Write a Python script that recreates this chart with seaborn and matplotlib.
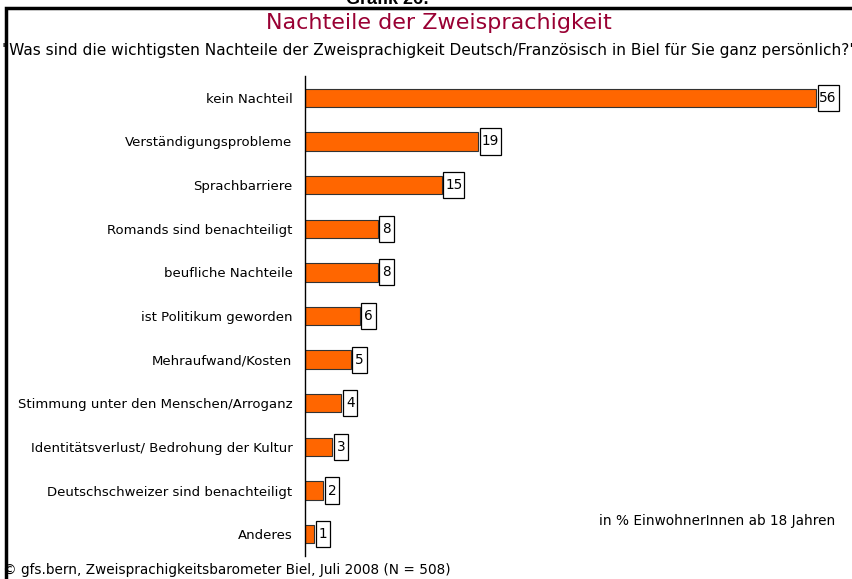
import matplotlib
matplotlib.use("Agg")
import matplotlib.pyplot as plt
import seaborn as sns
import pandas as pd
from matplotlib.patches import Rectangle

categories = [
    "kein Nachteil",
    "Verständigungsprobleme",
    "Sprachbarriere",
    "Romands sind benachteiligt",
    "beufliche Nachteile",
    "ist Politikum geworden",
    "Mehraufwand/Kosten",
    "Stimmung unter den Menschen/Arroganz",
    "Identitätsverlust/ Bedrohung der Kultur",
    "Deutschschweizer sind benachteiligt",
    "Anderes",
]
values = [56, 19, 15, 8, 8, 6, 5, 4, 3, 2, 1]

title = "Nachteile der Zweisprachigkeit"
subtitle = '"Was sind die wichtigsten Nachteile der Zweisprachigkeit Deutsch/Französisch in Biel für Sie ganz persönlich?"'
note = "in % EinwohnerInnen ab 18 Jahren"
footer = "© gfs.bern, Zweisprachigkeitsbarometer Biel, Juli 2008 (N = 508)"
header = "Grafik 26:"

df = pd.DataFrame({"cat": categories, "val": values})

sns.set_theme(style="white")
plt.rcParams["font.family"] = ["DejaVu Sans"]

W, H = 853, 579
fig = plt.figure(figsize=(W / 100, H / 100), dpi=100)
fig.patch.set_facecolor("white")

ax_left, ax_right, ax_top, ax_bot = 305, 853, 76, 556
ax = fig.add_axes([ax_left / W, 1 - ax_bot / H, (ax_right - ax_left) / W, (ax_bot - ax_top) / H])
px_per_unit = 9.125
xmax = (ax_right - ax_left) / px_per_unit

sns.barplot(data=df, y="cat", x="val", orient="h", color="#FF6600", ax=ax,
            width=0.42, edgecolor="#333333", linewidth=0.8, saturation=1)

ax.set_xlim(0, xmax)
ax.set_ylim(len(categories) - 0.5, -0.5)
ax.set_xlabel("")
ax.set_ylabel("")
ax.set_xticks([])
for s in ["top", "right", "bottom"]:
    ax.spines[s].set_visible(False)
ax.spines["left"].set_color("black")
ax.spines["left"].set_linewidth(1.0)
ax.tick_params(axis="y", which="major", length=0, pad=9, labelsize=9.5, labelcolor="black")
ax.set_yticks([i - 0.5 for i in range(len(categories) + 1)], minor=True)
ax.tick_params(axis="y", which="minor", length=4, width=1, color="black", direction="out")

# value label boxes
gap = 1.5 / px_per_unit
for i, v in enumerate(values):
    w = (6.5 * len(str(v)) + 8) / px_per_unit
    x0 = v + gap
    ax.add_patch(Rectangle((x0, i - 0.3), w, 0.6, facecolor="white", edgecolor="black",
                           linewidth=0.9, clip_on=False, zorder=3))
    ax.text(x0 + w / 2, i, str(v), ha="center", va="center", fontsize=9.8,
            color="black", zorder=4, clip_on=False)

# frame
fig.patches.append(Rectangle((6 / W, -0.1), 1.0, 1 - 7.5 / H + 0.1, transform=fig.transFigure,
                             fill=False, edgecolor="black", linewidth=2.5, clip_on=False))

fig.text(388 / W, 1 - 4 / H, header, ha="center", va="baseline", fontsize=13,
         fontweight="bold", family="Liberation Sans", color="black")
fig.text(439 / W, 1 - 23 / H, title, ha="center", va="center", fontsize=16,
         color="#990033")
fig.text(2 / W, 1 - 50 / H, subtitle, ha="left", va="center", fontsize=11.1,
         color="black")
fig.text(835 / W, 1 - 521 / H, note, ha="right", va="center", fontsize=9.8, color="black")
fig.text(3 / W, 1 - 570 / H, footer, ha="left", va="center", fontsize=9.8, color="black")

fig.savefig("out.png", dpi=100)
